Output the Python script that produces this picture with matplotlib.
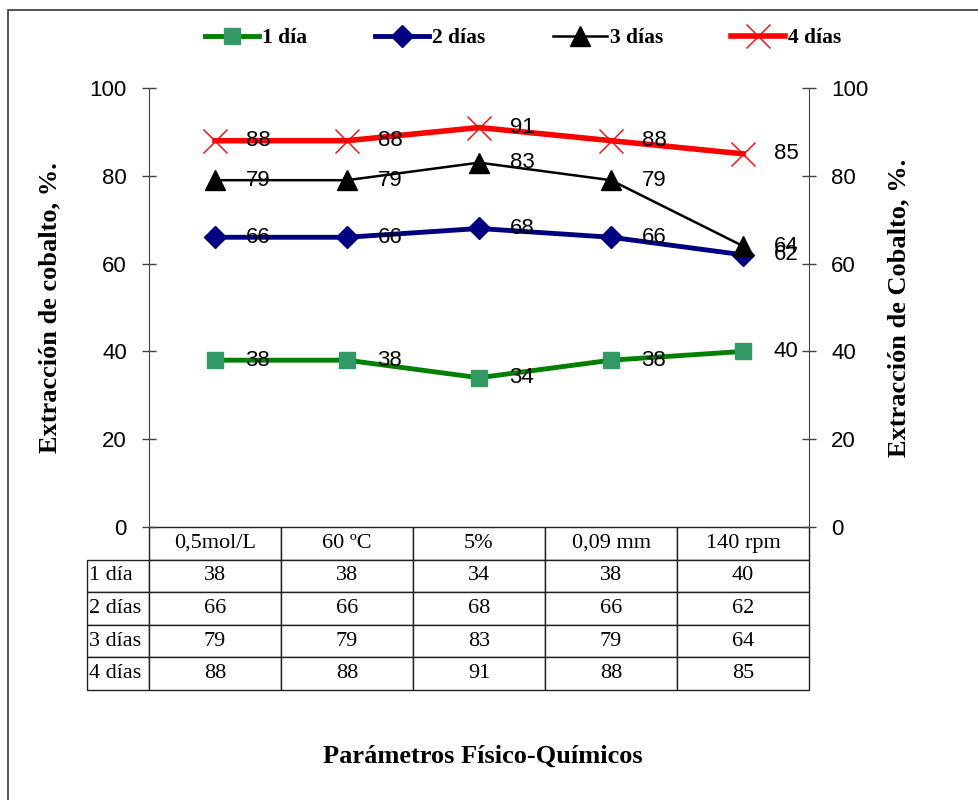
import matplotlib.pyplot as plt
from matplotlib.patches import Rectangle

# data
parametros = ['0,5mol/L', '60 ºC', '5%', '0,09 mm', '140 rpm']
series = ['1 día', '2 días', '3 días', '4 días']
dia1 = [38, 38, 34, 38, 40]
dia2 = [66, 66, 68, 66, 62]
dia3 = [79, 79, 83, 79, 64]
dia4 = [88, 88, 91, 88, 85]

SANS = 'Liberation Sans'
SERIF = 'Liberation Serif'

fig = plt.figure(figsize=(9.79, 8), dpi=100)
ax = fig.add_axes([149 / 979, 1 - 527 / 800, 660 / 979, 439 / 800])
x = list(range(len(parametros)))

styles = [
    dict(color='#008000', lw=3.5, marker='s', ms=12, mfc='#339966', mec='#339966'),
    dict(color='#000080', lw=3.5, marker='D', ms=11, mfc='#000080', mec='#000080'),
    dict(color='black', lw=1.8, marker='^', ms=15, mfc='black', mec='black'),
    dict(color='#ff0000', lw=4, marker='x', ms=17, mew=1, mfc='#ff0000', mec='#ff0000'),
]
handles = []
for name, vals, st in zip(series, [dia1, dia2, dia3, dia4], styles):
    h, = ax.plot(x, vals, label=name, zorder=3, **st)
    handles.append(h)
    for xi, v in zip(x, vals):
        ax.annotate(str(v), (xi, v), xytext=(22, 0), textcoords='offset points',
                    ha='left', va='center', fontsize=16, family=SANS, zorder=5)

ax.set_xlim(-0.5, len(parametros) - 0.5)
ax.set_ylim(0, 100)
ax.set_yticks(range(0, 101, 20))
ax.set_xticks([])
for s in ['top', 'bottom', 'right']:
    ax.spines[s].set_visible(False)
axis_col = '#404040'
ax.spines['left'].set_color(axis_col)
ax.tick_params(axis='y', direction='inout', length=10, width=1, color=axis_col,
               pad=11, labelsize=16)
for lab in ax.get_yticklabels():
    lab.set_family(SANS)
ax.set_ylabel('Extracción de cobalto, %.', fontsize=19, fontweight='bold',
              family=SERIF)
ax.yaxis.set_label_coords(-(149 - 61) / 660, 0.5)

ax2 = ax.twinx()
ax2.set_ylim(0, 100)
ax2.set_yticks(range(0, 101, 20))
for s in ['top', 'bottom', 'left']:
    ax2.spines[s].set_visible(False)
ax2.spines['right'].set_color(axis_col)
ax2.tick_params(axis='y', direction='inout', length=10, width=1, color=axis_col,
                pad=11, labelsize=16)
for lab in ax2.get_yticklabels():
    lab.set_family(SANS)
ax2.set_ylabel('Extracción de Cobalto, %.', fontsize=19, fontweight='bold',
               family=SERIF)
ax2.yaxis.set_label_coords(1 + (887 - 809) / 660, 0.5)

# data table under the plot
cell_text = [[str(v) for v in row] for row in [dia1, dia2, dia3, dia4]]
tab_h = 163 / 439
table = ax.table(cellText=cell_text, rowLabels=series, colLabels=parametros,
                 cellLoc='center', rowLoc='left', colWidths=[0.2] * 5,
                 bbox=[0, -tab_h, 1, tab_h])
if -1 in table._autoColumns:
    table._autoColumns.remove(-1)
table.auto_set_font_size(False)
for (r, c), cell in table.get_celld().items():
    cell.set_edgecolor('#222222')
    cell.set_linewidth(1)
    cell.get_text().set_fontsize(16)
    cell.get_text().set_family(SERIF)
    if c == -1:
        cell.set_width(62 / 660)
        cell.PAD = 0.03

fig.legend(handles=handles, loc='center', bbox_to_anchor=(523 / 979, 1 - 38 / 800),
           ncol=4, frameon=False, handlelength=2.5, handletextpad=0.15,
           columnspacing=3.15, prop={'family': SERIF, 'weight': 'bold', 'size': 15.5})

fig.text(483 / 979, 1 - 756 / 800, 'Parámetros Físico-Químicos', ha='center',
         va='center', fontsize=19, fontweight='bold', family=SERIF)

# chart-area border
fig.patches.append(Rectangle((8 / 979, -0.05), 1.0, 1.05 - 9.5 / 800,
                             transform=fig.transFigure, fill=False,
                             edgecolor='#444444', lw=1.3))

fig.savefig('out.png', dpi=100)
